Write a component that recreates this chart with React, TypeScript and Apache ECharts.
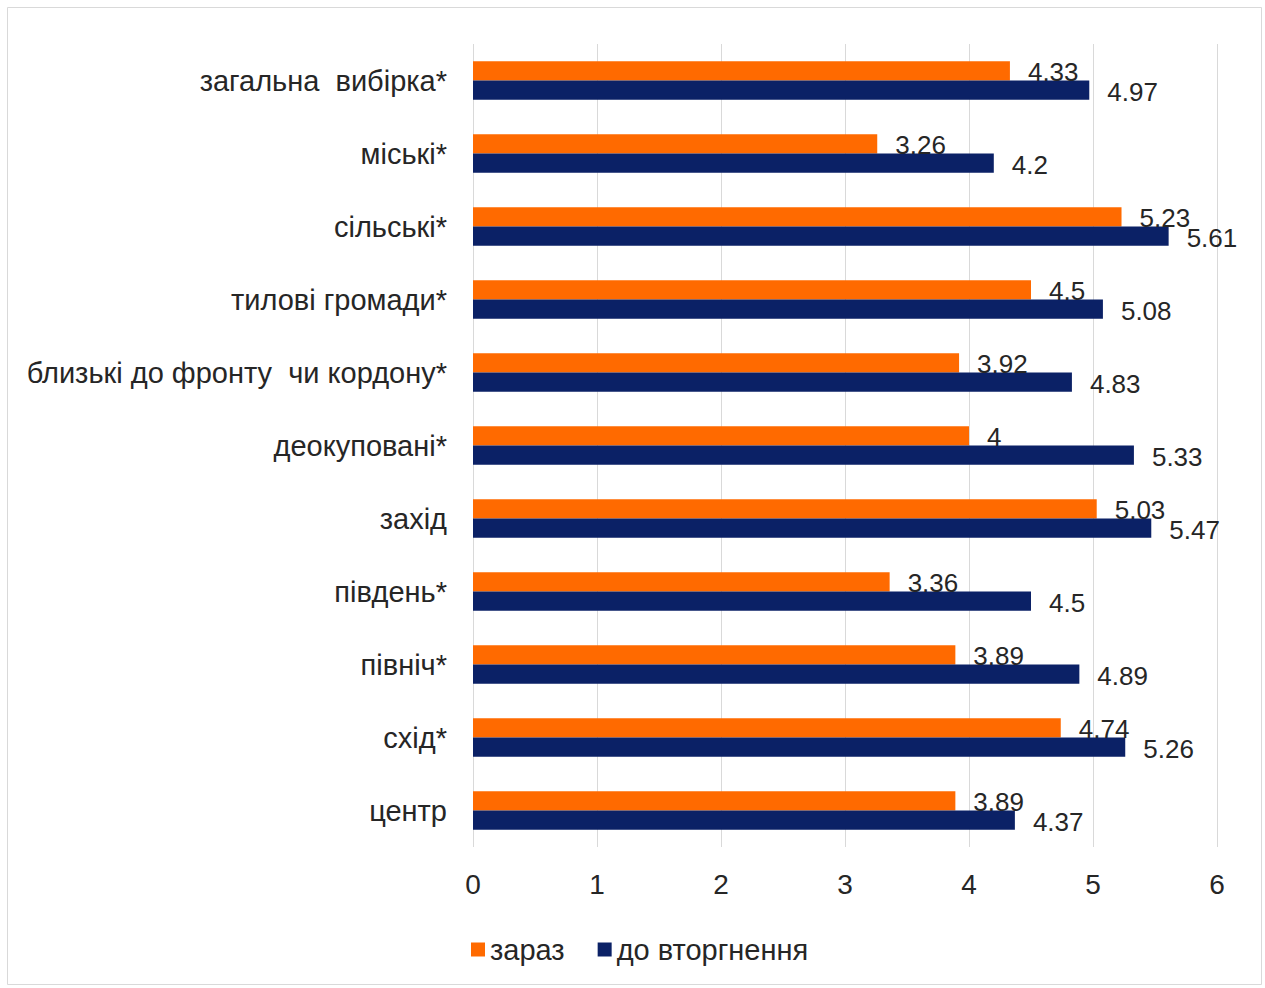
import React, { useEffect, useRef } from "react";
import * as echarts from "echarts";

const categories = [
  "загальна  вибірка*",
  "міські*",
  "сільські*",
  "тилові громади*",
  "близькі до фронту  чи кордону*",
  "деокуповані*",
  "захід",
  "південь*",
  "північ*",
  "схід*",
  "центр",
];
const nowValues = [4.33, 3.26, 5.23, 4.5, 3.92, 4, 5.03, 3.36, 3.89, 4.74, 3.89];
const beforeValues = [4.97, 4.2, 5.61, 5.08, 4.83, 5.33, 5.47, 4.5, 4.89, 5.26, 4.37];
const seriesNames = ["зараз", "до вторгнення"];

const FONT = "'Liberation Sans', Arial, sans-serif";
const TEXT = "#262626";

export default function App() {
  const ref = useRef<HTMLDivElement>(null);
  useEffect(() => {
    if (!ref.current) return;
    const chart = echarts.init(ref.current, undefined, { renderer: "svg" });
    chart.setOption({
      animation: false,
      backgroundColor: "#ffffff",
      textStyle: { fontFamily: FONT },
      graphic: [
        {
          type: "rect",
          shape: { x: 7.5, y: 7.5, width: 1254, height: 977 },
          style: { fill: "none", stroke: "#d9d9d9", lineWidth: 1 },
          silent: true,
        },
      ],
      legend: {
        left: 466,
        top: 930,
        itemWidth: 14,
        itemHeight: 14,
        itemGap: 33,
        icon: "rect",
        textStyle: { fontSize: 29, color: TEXT, fontFamily: FONT },
        data: seriesNames,
      },
      grid: { left: 473, right: 48, top: 44, bottom: 141, containLabel: false },
      xAxis: {
        type: "value",
        min: 0,
        max: 6,
        interval: 1,
        axisLine: { show: false },
        axisTick: { show: false },
        axisLabel: { fontSize: 28, color: TEXT, margin: 23, fontFamily: FONT },
        splitLine: { show: true, lineStyle: { color: "#d9d9d9", width: 1 } },
      },
      yAxis: {
        type: "category",
        inverse: true,
        data: categories,
        axisLine: { show: false },
        axisTick: { show: false },
        axisLabel: { fontSize: 29, color: TEXT, margin: 26, fontFamily: FONT },
      },
      series: [
        {
          name: seriesNames[0],
          type: "bar",
          data: nowValues,
          barGap: "0%",
          barCategoryGap: "47%",
          itemStyle: { color: "#FF6A00" },
          label: {
            show: true,
            position: "right",
            distance: 18,
            fontSize: 26,
            color: TEXT,
            fontFamily: FONT,
            offset: [0, 1],
          },
        },
        {
          name: seriesNames[1],
          type: "bar",
          data: beforeValues,
          barGap: "0%",
          barCategoryGap: "47%",
          itemStyle: { color: "#0B2166" },
          label: {
            show: true,
            position: "right",
            distance: 18,
            fontSize: 26,
            color: TEXT,
            fontFamily: FONT,
            offset: [0, 2],
          },
        },
      ],
    });
    return () => chart.dispose();
  }, []);
  return (
    <div
      ref={ref}
      style={{ position: "absolute", left: 0, top: 0, width: 1265, height: 988 }}
    />
  );
}
